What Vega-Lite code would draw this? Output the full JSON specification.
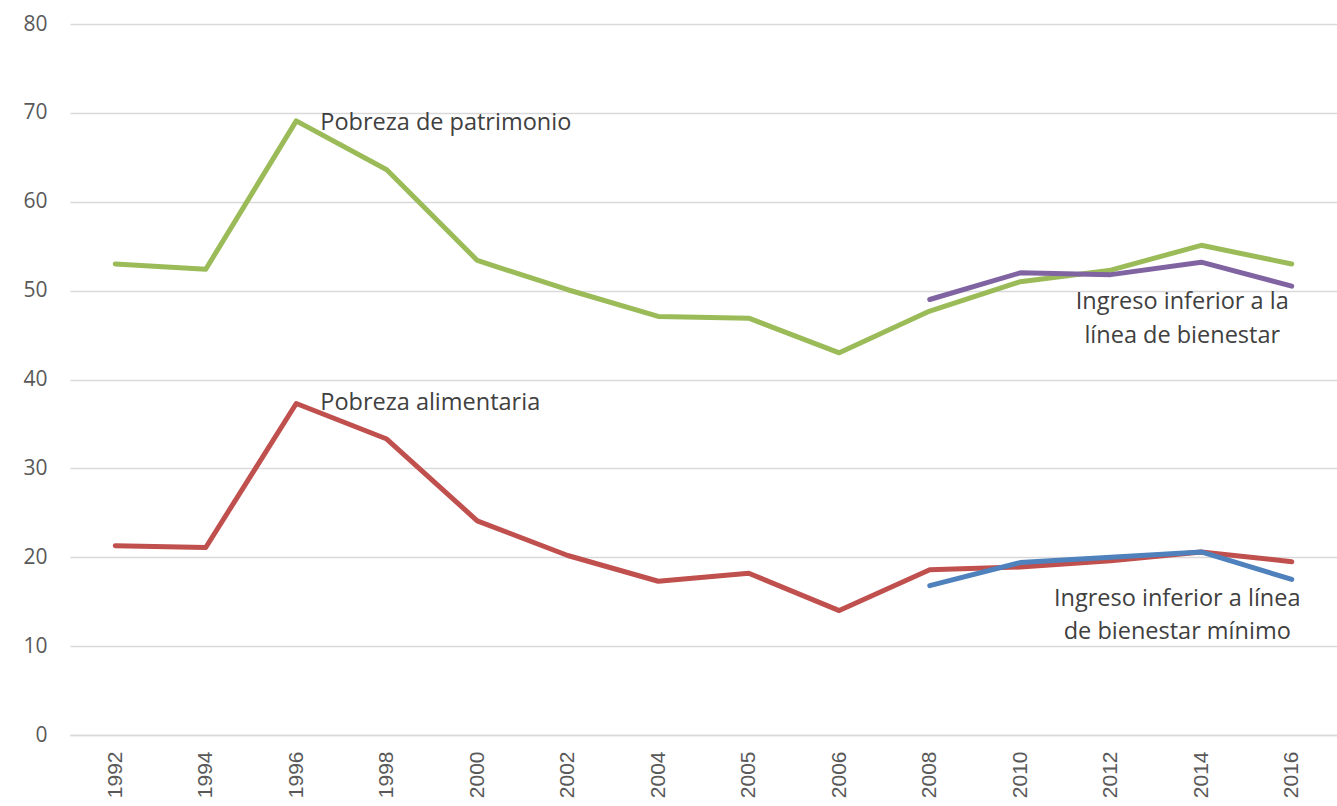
{
  "$schema": "https://vega.github.io/schema/vega-lite/v6.json",
  "width": 1267,
  "height": 711,
  "autosize": {"type": "none"},
  "padding": {"left": 70, "top": 24, "right": 0, "bottom": 71},
  "background": "white",
  "config": {"view": {"stroke": null}},
  "datasets": {
    "series": [
      {"year": "1992", "series": "Pobreza de patrimonio", "value": 53.0},
      {"year": "1994", "series": "Pobreza de patrimonio", "value": 52.4},
      {"year": "1996", "series": "Pobreza de patrimonio", "value": 69.1},
      {"year": "1998", "series": "Pobreza de patrimonio", "value": 63.6},
      {"year": "2000", "series": "Pobreza de patrimonio", "value": 53.4},
      {"year": "2002", "series": "Pobreza de patrimonio", "value": 50.1},
      {"year": "2004", "series": "Pobreza de patrimonio", "value": 47.1},
      {"year": "2005", "series": "Pobreza de patrimonio", "value": 46.9},
      {"year": "2006", "series": "Pobreza de patrimonio", "value": 43.0},
      {"year": "2008", "series": "Pobreza de patrimonio", "value": 47.7},
      {"year": "2010", "series": "Pobreza de patrimonio", "value": 51.0},
      {"year": "2012", "series": "Pobreza de patrimonio", "value": 52.3},
      {"year": "2014", "series": "Pobreza de patrimonio", "value": 55.1},
      {"year": "2016", "series": "Pobreza de patrimonio", "value": 53.0},
      {"year": "1992", "series": "Pobreza alimentaria", "value": 21.3},
      {"year": "1994", "series": "Pobreza alimentaria", "value": 21.1},
      {"year": "1996", "series": "Pobreza alimentaria", "value": 37.3},
      {"year": "1998", "series": "Pobreza alimentaria", "value": 33.3},
      {"year": "2000", "series": "Pobreza alimentaria", "value": 24.1},
      {"year": "2002", "series": "Pobreza alimentaria", "value": 20.2},
      {"year": "2004", "series": "Pobreza alimentaria", "value": 17.3},
      {"year": "2005", "series": "Pobreza alimentaria", "value": 18.2},
      {"year": "2006", "series": "Pobreza alimentaria", "value": 14.0},
      {"year": "2008", "series": "Pobreza alimentaria", "value": 18.6},
      {"year": "2010", "series": "Pobreza alimentaria", "value": 18.9},
      {"year": "2012", "series": "Pobreza alimentaria", "value": 19.6},
      {"year": "2014", "series": "Pobreza alimentaria", "value": 20.6},
      {"year": "2016", "series": "Pobreza alimentaria", "value": 19.5},
      {"year": "2008", "series": "Línea de bienestar", "value": 49.0},
      {"year": "2010", "series": "Línea de bienestar", "value": 52.0},
      {"year": "2012", "series": "Línea de bienestar", "value": 51.8},
      {"year": "2014", "series": "Línea de bienestar", "value": 53.2},
      {"year": "2016", "series": "Línea de bienestar", "value": 50.5},
      {"year": "2008", "series": "Línea de bienestar mínimo", "value": 16.8},
      {"year": "2010", "series": "Línea de bienestar mínimo", "value": 19.4},
      {"year": "2012", "series": "Línea de bienestar mínimo", "value": 20.0},
      {"year": "2014", "series": "Línea de bienestar mínimo", "value": 20.6},
      {"year": "2016", "series": "Línea de bienestar mínimo", "value": 17.5}
    ],
    "labels": [
      {"year": "1996", "value": 68.9, "label": "Pobreza de patrimonio", "pos": "left"},
      {"year": "1996", "value": 37.4, "label": "Pobreza alimentaria", "pos": "left"},
      {"year": "2014", "value": 48.7, "label": "Ingreso inferior a la", "pos": "center"},
      {"year": "2014", "value": 44.9, "label": "línea de bienestar", "pos": "center"},
      {"year": "2014", "value": 15.3, "label": "Ingreso inferior a línea", "pos": "center2"},
      {"year": "2014", "value": 11.6, "label": "de bienestar mínimo", "pos": "center2"}
    ]
  },
  "encoding": {
    "x": {
      "field": "year", "type": "ordinal",
      "scale": {"type": "point", "padding": 0.5},
      "axis": {
        "title": null, "labelAngle": 270, "labelFont": "Liberation Sans",
        "labelFontSize": 21, "labelColor": "#595959", "labelPadding": 16,
        "ticks": false, "domainColor": "#d9d9d9", "domainWidth": 1.5, "grid": false
      }
    },
    "y": {
      "field": "value", "type": "quantitative",
      "scale": {"domain": [0, 80], "nice": false, "zero": true},
      "axis": {
        "title": null, "values": [0, 10, 20, 30, 40, 50, 60, 70, 80],
        "labelFont": "Open Sans", "labelFontSize": 21, "labelColor": "#595959",
        "labelPadding": 23, "ticks": false, "domain": false,
        "gridColor": "#d9d9d9", "gridWidth": 1.5
      }
    }
  },
  "layer": [
    {
      "data": {"name": "series"},
      "mark": {"type": "line", "strokeWidth": 5, "strokeJoin": "round", "strokeCap": "round"},
      "encoding": {
        "color": {
          "field": "series", "type": "nominal", "legend": null,
          "scale": {
            "domain": ["Pobreza de patrimonio", "Pobreza alimentaria", "Línea de bienestar", "Línea de bienestar mínimo"],
            "range": ["#9BBB59", "#C0504D", "#8064A2", "#4F81BD"]
          }
        }
      }
    },
    {
      "data": {"name": "labels"},
      "transform": [{"filter": "datum.pos == 'left'"}],
      "mark": {"type": "text", "align": "left", "baseline": "middle", "dx": 24, "font": "Open Sans", "fontSize": 23.5, "color": "#404040"},
      "encoding": {"text": {"field": "label"}}
    },
    {
      "data": {"name": "labels"},
      "transform": [{"filter": "datum.pos == 'center'"}],
      "mark": {"type": "text", "align": "center", "baseline": "middle", "dx": -19, "font": "Open Sans", "fontSize": 23.5, "color": "#404040"},
      "encoding": {"text": {"field": "label"}}
    },
    {
      "data": {"name": "labels"},
      "transform": [{"filter": "datum.pos == 'center2'"}],
      "mark": {"type": "text", "align": "center", "baseline": "middle", "dx": -24, "font": "Open Sans", "fontSize": 23.5, "color": "#404040"},
      "encoding": {"text": {"field": "label"}}
    }
  ]
}
